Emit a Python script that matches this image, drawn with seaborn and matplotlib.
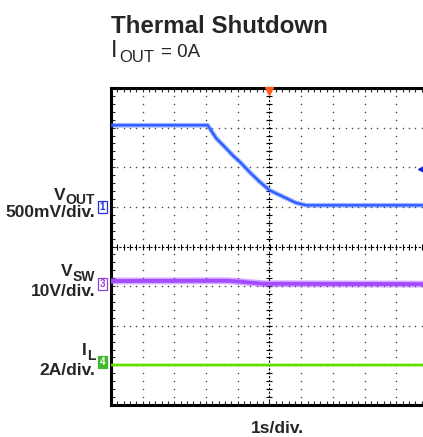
import numpy as np
import pandas as pd
import matplotlib
matplotlib.use("Agg")
import matplotlib.pyplot as plt
import seaborn as sns

# Scope captures: time in seconds (trigger at t = 0), values in channel units
time_vout = [-5.0, -1.95, -1.68, -1.42, -1.16, -0.89, -0.63, -0.32, 0.0, 0.42, 0.84, 1.16, 5.0]
vout_v = [1.03, 1.03, 0.865, 0.76, 0.65, 0.55, 0.44, 0.32, 0.21, 0.13, 0.05, 0.02, 0.02]

time_vsw = [-5.0, -1.3, -0.9, -0.2, 5.0]
vsw_v = [1.3, 1.35, 1.1, 0.6, 0.5]

time_il = [-5.0, 5.0]
il_a = [0.0, 0.0]

trigger_level_v = 0.475

channel_main = ["V", "V", "I"]
channel_sub = ["OUT", "SW", "L"]
channel_scales = ["500mV/div.", "10V/div.", "2A/div."]
channel_ids = ["1", "3", "4"]
units_per_div = [0.5, 10.0, 2.0]
time_label = "1s/div."
title = "Thermal Shutdown"

# ---- layout ----
W, H = 423, 437
ground_div = [1.0, -1.0, -3.0]          # channel ground markers (divisions)
colors = ["#2b5cff", "#a54cff", "#5ee000"]
halo = [3.4, 5.0, 2.6]
core = [1.6, 2.8, 1.4]

sns.set_style("white")
plt.rcParams["font.family"] = ["Liberation Sans", "DejaVu Sans"]

fig = plt.figure(figsize=(W / 100, H / 100), dpi=100)
ax = fig.add_axes([111 / W, 32 / H, 317 / W, 317 / H])
ax.set_xlim(-5, 5)
ax.set_ylim(-4, 4)


def px(x, y):
    return x / W, 1 - y / H


# dotted graticule
minor_y = np.arange(-4, 4.001, 0.2)
minor_x = np.arange(-5, 5.001, 0.2)
for gx in range(-4, 5):
    if gx != 0:
        ax.scatter(np.full_like(minor_y, gx), minor_y, s=1.2, color="#444444",
                   linewidths=0, zorder=1)
for gy in range(-3, 4):
    if gy != 0:
        ax.scatter(minor_x, np.full_like(minor_x, gy), s=1.2, color="#444444",
                   linewidths=0, zorder=1)

# centre cross with sub-division ticks
ax.axvline(0, color="black", lw=0.8, ls=(0, (2, 1.5)), zorder=1)
ax.axhline(0, color="black", lw=0.8, ls=(0, (2, 1.5)), zorder=1)
ax.plot(np.zeros_like(minor_y), minor_y, ls="none", marker="_", ms=4.5, mew=0.8,
        color="black", zorder=1)
ax.plot(minor_x, np.zeros_like(minor_x), ls="none", marker="|", ms=4.5, mew=0.8,
        color="black", zorder=1)

# traces
traces = [
    pd.DataFrame({"t": time_vout, "v": vout_v}),
    pd.DataFrame({"t": time_vsw, "v": vsw_v}),
    pd.DataFrame({"t": time_il, "v": il_a}),
]
for i, df in enumerate(traces):
    df["div"] = df["v"] / units_per_div[i] + ground_div[i]
    sns.lineplot(data=df, x="t", y="div", ax=ax, color=colors[i], lw=halo[i],
                 alpha=0.45, estimator=None, sort=False, zorder=3)
    sns.lineplot(data=df, x="t", y="div", ax=ax, color=colors[i], lw=core[i],
                 estimator=None, sort=False, zorder=4)

# trigger position / level markers
ax.plot([0], [3.92], marker="v", ms=6, color="#ff5a1f", clip_on=False, zorder=6)
ax.plot([4.8], [trigger_level_v / units_per_div[0] + ground_div[0]], marker="<",
        ms=6, color="#1428c8", clip_on=False, zorder=6)

# frame and ticks
for side in ["left", "top", "bottom"]:
    ax.spines[side].set_linewidth(2.2)
    ax.spines[side].set_color("black")
ax.spines["right"].set_visible(False)
ax.set_xticks(np.arange(-5, 6, 1))
ax.set_yticks(np.arange(-4, 5, 1))
ax.set_xticks(minor_x, minor=True)
ax.set_yticks(minor_y, minor=True)
ax.tick_params(which="both", direction="in", length=3, width=0.8, top=True,
               bottom=True, left=True, right=False, labelbottom=False,
               labelleft=False)
ax.set_xlabel("")
ax.set_ylabel("")

# channel ground markers
box_styles = [
    dict(fc="white", ec="#2030e0", tc="#2030e0"),
    dict(fc="white", ec="#9040e0", tc="#9040e0"),
    dict(fc="#44b82c", ec="#44b82c", tc="white"),
]
marker_y = [207, 284, 362]
for i, cid in enumerate(channel_ids):
    st = box_styles[i]
    fig.text(*px(102.5, marker_y[i]), cid, ha="center", va="center", fontsize=7,
             color=st["tc"], fontweight="bold",
             bbox=dict(boxstyle="square,pad=0.15", fc=st["fc"], ec=st["ec"], lw=0.9))

renderer = fig.canvas.get_renderer()


def sub_label(x_right, y_main, y_sub, main, sub, main_size, sub_size, weight):
    """Draw a symbol with a subscript, right-aligned at x_right (pixels)."""
    t_sub = fig.text(*px(x_right, y_sub), sub, ha="right", va="baseline",
                     fontsize=sub_size, fontweight=weight)
    bb = t_sub.get_window_extent(renderer)
    fig.text(bb.x0 / W, 1 - y_main / H, main, ha="right", va="baseline",
             fontsize=main_size, fontweight=weight)


# channel labels
name_base = [200.5, 276.5, 355]
sub_base = [204.5, 281, 360]
scale_base = [217, 296, 375]
for i in range(3):
    sub_label(95, name_base[i], sub_base[i], channel_main[i], channel_sub[i],
              12.5, 10, "bold")
    fig.text(*px(95, scale_base[i]), channel_scales[i], ha="right", va="baseline",
             fontsize=12.5, fontweight="bold")

fig.text(*px(277, 433), time_label, ha="center", va="baseline", fontsize=12.5,
         fontweight="bold")
fig.text(*px(111, 33), title, ha="left", va="baseline", fontsize=17.4,
         fontweight="bold")

# subtitle: I_OUT = 0A
t_i = fig.text(*px(111, 57), "I", ha="left", va="baseline", fontsize=17)
bb = t_i.get_window_extent(renderer)
t_o = fig.text(bb.x1 / W + 1.5 / W, 1 - 62 / H, "OUT", ha="left", va="baseline",
               fontsize=12)
bb = t_o.get_window_extent(renderer)
fig.text(bb.x1 / W + 7 / W, 1 - 57 / H, "= 0A", ha="left", va="baseline",
         fontsize=13.5)

fig.savefig("out.png", dpi=100)
